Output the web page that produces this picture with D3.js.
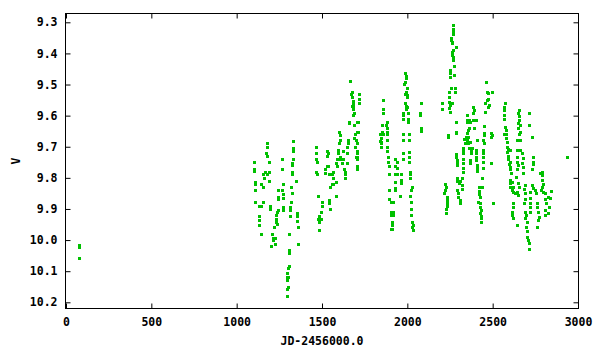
<!DOCTYPE html>
<html><head><meta charset="utf-8">
<script src="https://cdn.jsdelivr.net/npm/d3@7"></script>
<style>body{margin:0;background:#fff}svg{display:block}</style>
</head><body><svg id="c" width="600" height="350"></svg>
<script>
// x tick values and y tick values
const xTicks = [0, 500, 1000, 1500, 2000, 2500, 3000];
const yTicks = [9.3, 9.4, 9.5, 9.6, 9.7, 9.8, 9.9, 10.0, 10.1, 10.2];
const xTitle = "JD-2456000.0";
const yTitle = "V";
// observations [JD-2456000, V] grouped by season
const seasonA = [[78,10.016],[78,10.023],[78,10.058]];
const seasonB = [[1176,9.689],[1179,9.702],[1172,9.721],[1179,9.730],[1103,9.750],[1189,9.750],[1103,9.770],[1103,9.778],[1166,9.780],[1156,9.788],[1176,9.788],[1191,9.780],[1162,9.802],[1109,9.813],[1109,9.820],[1191,9.811],[1144,9.820],[1156,9.831],[1109,9.840],[1109,9.879],[1156,9.879],[1133,9.892],[1142,9.892],[1197,9.892],[1197,9.901],[1133,9.922],[1133,9.936],[1133,9.950],[1141,9.979],[1205,9.979],[1211,9.992],[1211,10.000],[1225,9.992],[1226,10.012],[1203,10.020],
[1273,9.821],[1244,9.839],[1267,9.839],[1244,9.861],[1244,9.869],[1273,9.852],[1273,9.866],[1264,9.741],[1264,9.770],[1273,9.893],[1273,9.902],[1240,9.902],[1234,9.909],[1229,9.920],[1229,9.931],[1229,9.941],[1234,9.949],[1220,9.959],
[1332,9.681],[1332,9.703],[1332,9.713],[1332,9.741],[1326,9.752],[1326,9.760],[1326,9.780],[1326,9.788],[1349,9.811],[1320,9.831],[1326,9.850],[1320,9.879],[1314,9.893],[1314,9.902],[1314,9.922],[1355,9.914],[1355,9.923],[1352,9.940],[1361,9.959],[1308,9.979],[1361,10.012],[1308,10.033],[1308,10.041],[1308,10.082],[1302,10.091],[1297,10.105],[1297,10.118],[1302,10.120],[1297,10.128],[1302,10.150],[1297,10.158],[1297,10.180]];
const seasonC = [[1465,9.702],[1465,9.721],[1467,9.741],[1472,9.750],[1467,9.780],[1472,9.788],[1527,9.713],[1527,9.730],[1533,9.721],[1527,9.761],[1533,9.761],[1517,9.773],[1517,9.785],[1539,9.788],[1547,9.831],[1478,9.859],[1543,9.871],[1543,9.880],[1502,9.879],[1502,9.892],[1496,9.911],[1484,9.922],[1478,9.932],[1492,9.932],[1484,9.941],[1484,9.968],[1549,9.901],
[1566,9.780],[1557,9.788],[1566,9.802],[1582,9.813],[1566,9.820],[1557,9.820],[1582,9.859],[1586,9.741],[1582,9.752],[1586,9.761],[1601,9.652],[1605,9.662],[1605,9.679],[1601,9.689],[1595,9.711],[1595,9.721],[1605,9.732],[1605,9.741],[1615,9.752],[1625,9.713],[1625,9.741],[1629,9.773],[1635,9.780],[1635,9.788],[1636,9.802],[1648,9.721],[1648,9.752],[1654,9.679],[1654,9.689],[1648,9.702],[1658,9.623],
[1666,9.489],[1674,9.523],[1668,9.531],[1674,9.539],[1680,9.552],[1680,9.561],[1674,9.569],[1683,9.569],[1680,9.580],[1687,9.591],[1683,9.598],[1718,9.531],[1718,9.545],[1718,9.561],[1660,9.621],[1689,9.630],[1703,9.621],[1713,9.621],[1703,9.652],[1713,9.652],[1693,9.659],[1689,9.671],[1699,9.679],[1703,9.689],[1693,9.702],[1707,9.713],[1703,9.721],[1699,9.732],[1707,9.732],[1703,9.741],[1703,9.761],[1707,9.771]];
const seasonD = [[1859,9.550],[1859,9.580],[1859,9.591],[1883,9.621],[1853,9.630],[1875,9.630],[1879,9.641],[1850,9.652],[1840,9.659],[1856,9.659],[1883,9.652],[1883,9.659],[1846,9.671],[1846,9.684],[1840,9.681],[1848,9.689],[1883,9.679],[1846,9.702],[1883,9.702],[1883,9.713],[1889,9.732],[1889,9.750],[1895,9.761],[1895,9.789],[1895,9.839],[1895,9.869],[1903,9.878],[1918,9.879],[1903,9.911],[1914,9.911],[1903,9.920],[1914,9.920],[1910,9.941],[1910,9.952],[1910,9.965],[1903,9.965],
[1928,9.741],[1938,9.750],[1928,9.761],[1938,9.769],[1928,9.789],[1941,9.789],[1929,9.813],[1929,9.834],[1929,9.839],[1957,9.859],[1965,9.807],[1961,9.817],[1965,9.789],
[1986,9.462],[1992,9.473],[1992,9.480],[1986,9.491],[1980,9.499],[1996,9.512],[1992,9.523],[1986,9.531],[2000,9.534],[2000,9.541],[1986,9.561],[1992,9.569],[1992,9.580],[1996,9.572],[1976,9.591],[1976,9.598],[2006,9.591],[1976,9.612],[2006,9.612],[2006,9.621],[1976,9.659],[1976,9.679],[2011,9.659],[2011,9.679],[1973,9.721],[1973,9.741],[2011,9.716],[2011,9.732],[2011,9.750],[2015,9.780],[2015,9.789],[2015,9.801],[2025,9.831],[2019,9.839],[2015,9.859],[2019,9.879],[2023,9.901],[2023,9.920],[2027,9.941],[2031,9.952],[2027,9.959],[2031,9.968],
[2078,9.561],[2074,9.591],[2074,9.598],[2082,9.641],[2082,9.650]];
const seasonE = [[2269,9.309],[2266,9.322],[2266,9.330],[2266,9.337],[2257,9.349],[2257,9.356],[2260,9.363],[2264,9.368],[2285,9.379],[2266,9.389],
[2201,9.561],[2201,9.580],[2263,9.394],[2263,9.405],[2269,9.410],[2269,9.421],[2275,9.440],[2250,9.453],[2250,9.464],[2250,9.475],[2275,9.470],[2254,9.512],[2281,9.512],[2281,9.523],[2244,9.523],[2244,9.539],[2244,9.555],[2250,9.566],[2244,9.577],[2250,9.587],[2260,9.561],[2240,9.662],[2240,9.670],[2285,9.621],[2285,9.652],[2285,9.657],[2285,9.723],[2285,9.734],[2289,9.743],[2293,9.751],[2293,9.759],
[2221,9.821],[2226,9.830],[2221,9.839],[2215,9.850],[2231,9.861],[2231,9.871],[2231,9.880],[2234,9.890],[2226,9.901],[2226,9.912],[2293,9.802],[2293,9.809],[2308,9.809],[2303,9.818],[2318,9.802],[2293,9.839],[2299,9.850],[2299,9.861],[2308,9.871],[2308,9.880],[2318,9.823],[2318,9.837],
[2324,9.710],[2324,9.721],[2324,9.740],[2324,9.753],[2324,9.769],[2324,9.780],[2328,9.705],[2334,9.676],[2344,9.670],[2348,9.678],[2357,9.670],[2367,9.684],[2357,9.689],[2338,9.689],[2351,9.655],[2357,9.646],[2363,9.641],[2348,9.614],[2363,9.614],[2351,9.621],[2367,9.620],[2348,9.598],[2390,9.641],[2386,9.572],[2392,9.582],[2386,9.591],[2383,9.614],[2402,9.614],[2363,9.705],[2377,9.705],[2371,9.710],[2328,9.741],[2367,9.743],[2367,9.753],[2373,9.721],[2402,9.710],[2402,9.721],[2402,9.732],[2402,9.743],[2406,9.679],[2410,9.759],[2410,9.769],[2410,9.777],
[2437,9.800],[2422,9.830],[2422,9.841],[2418,9.852],[2426,9.861],[2416,9.877],[2426,9.880],[2426,9.893],[2430,9.903],[2426,9.914],[2430,9.922],[2433,9.930],[2433,9.941],[2437,9.830],[2445,9.710],[2445,9.721],[2445,9.734],[2445,9.748],[2445,9.769],[2451,9.634],[2451,9.655],[2451,9.662],[2445,9.679],[2449,9.689],[2455,9.588],[2461,9.491],[2465,9.523],[2475,9.528],[2465,9.550],[2475,9.545],[2455,9.561],[2475,9.572],[2480,9.566],[2496,9.523],[2488,9.657],[2488,9.670],[2492,9.753],[2500,9.880],[2494,9.662],[2490,9.751]];
const seasonF = [[2572,9.561],[2566,9.572],[2566,9.582],[2566,9.598],[2566,9.612],[2572,9.636],[2578,9.646],[2566,9.659],[2578,9.659],[2578,9.673],[2582,9.684],[2582,9.700],[2591,9.708],[2582,9.716],[2601,9.710],[2591,9.730],[2591,9.740],[2601,9.748],[2597,9.755],[2601,9.764],[2601,9.772],[2605,9.785],[2601,9.807],[2601,9.817],[2611,9.812],[2601,9.828],[2617,9.828],[2611,9.839],[2621,9.844],[2631,9.850],[2621,9.880],[2621,9.893],[2611,9.909],[2611,9.920],[2617,9.930],[2641,9.952],
[2656,9.582],[2650,9.591],[2656,9.601],[2656,9.614],[2650,9.625],[2660,9.630],[2650,9.641],[2660,9.652],[2656,9.659],[2644,9.679],[2660,9.679],[2644,9.710],[2660,9.710],[2644,9.732],[2641,9.748],[2650,9.759],[2644,9.773],[2670,9.721],[2676,9.737],[2670,9.753],[2676,9.764],[2637,9.796],[2650,9.817],[2656,9.828],[2644,9.844],[2650,9.855],[2679,9.785],
[2689,9.823],[2683,9.837],[2689,9.848],[2689,9.869],[2683,9.880],[2689,9.909],[2695,9.920],[2689,9.930],[2699,9.941],[2695,9.957],[2703,9.970],[2699,9.989],[2709,10.000],[2715,10.011],[2715,10.030],[2715,9.593],[2715,9.630],[2719,9.866],[2719,9.880],[2719,9.893],[2719,9.909],[2729,9.670],[2729,9.823],[2735,9.834],[2719,9.844],[2735,9.732],[2735,9.748],[2738,9.755],[2729,9.773],[2748,9.839],[2754,9.848],
[2761,9.882],[2761,9.895],[2767,9.909],[2773,9.925],[2767,9.936],[2777,9.783],[2787,9.791],[2787,9.807],[2797,9.820],[2787,9.828],[2781,9.839],[2797,9.844],[2806,9.850],[2806,9.869],[2812,9.882],[2806,9.903],[2806,9.919],[2826,9.861],[2836,9.866],[2832,9.893],[2826,9.914],[2840,9.841],[2759,9.959],[2787,9.780]];
const seasonG = [[2934,9.732]];

const svg = d3.select("#c");
const L = 65.5, R = 578.5, T = 13.5, B = 308.5;
const x = d3.scaleLinear().domain([0, 3000]).range([66, 578]);
const y = d3.scaleLinear().domain([9.3, 10.2]).range([22.3, 302.3]);
const font = "'DejaVu Sans Mono', monospace";
const green = "#00c000";

const all = [].concat(seasonA, seasonB, seasonC, seasonD, seasonE, seasonF, seasonG);
svg.append("g").selectAll("rect").data(all).join("rect")
  .attr("x", d => Math.round(x(d[0])) - 1)
  .attr("y", d => Math.round(y(d[1])) - 1)
  .attr("width", 3).attr("height", 3)
  .attr("fill", green);

// frame
svg.append("rect").attr("x", L).attr("y", T).attr("width", R - L).attr("height", B - T)
  .attr("fill", "none").attr("stroke", "#000").attr("stroke-width", 1);

// axes with inward ticks (gnuplot style, mirrored)
const tk = 5;
const gx = svg.append("g").attr("transform", `translate(0,${B})`)
  .call(d3.axisBottom(x).tickValues(xTicks).tickSizeInner(-tk).tickSizeOuter(0).tickPadding(9).tickFormat(d3.format("d")));
const gxt = svg.append("g").attr("transform", `translate(0,${T})`)
  .call(d3.axisTop(x).tickValues(xTicks).tickSizeInner(-tk).tickSizeOuter(0).tickFormat(""));
const gy = svg.append("g").attr("transform", `translate(${L},0)`)
  .call(d3.axisLeft(y).tickValues(yTicks).tickSizeInner(-tk).tickSizeOuter(0).tickPadding(9).tickFormat(d3.format(".1f")));
const gyr = svg.append("g").attr("transform", `translate(${R},0)`)
  .call(d3.axisRight(y).tickValues(yTicks).tickSizeInner(-tk).tickSizeOuter(0).tickFormat(""));
[gx, gxt, gy, gyr].forEach(g => {
  g.select(".domain").remove();
  g.selectAll("line").attr("stroke", "#000");
  g.selectAll("text").attr("font-family", font).attr("font-size", 11.5).attr("font-weight", "bold").attr("fill", "#000");
});
gy.selectAll("text").attr("x", -8);

svg.append("text").attr("x", 322).attr("y", 345)
  .attr("text-anchor", "middle").attr("font-family", font).attr("font-size", 11.5).attr("font-weight", "bold")
  .text(xTitle);
svg.append("text").attr("transform", "translate(20,161) rotate(-90)")
  .attr("text-anchor", "middle").attr("font-family", font).attr("font-size", 11.5).attr("font-weight", "bold")
  .text(yTitle);
</script></body></html>
